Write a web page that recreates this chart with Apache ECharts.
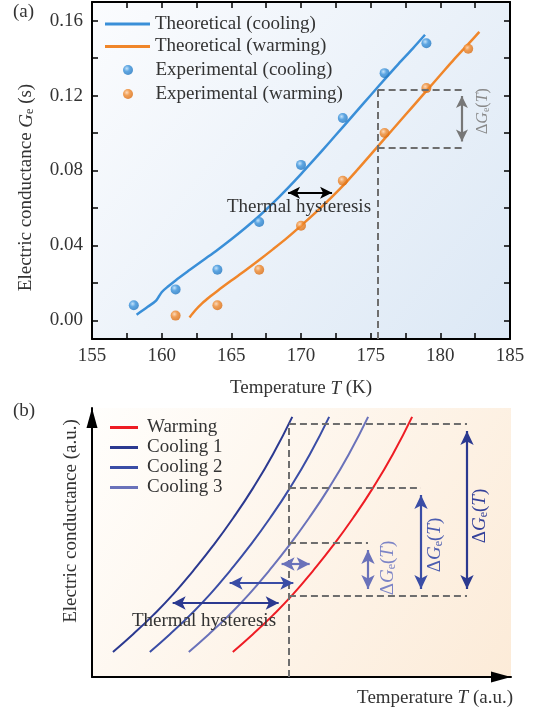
<!DOCTYPE html>
<html>
<head>
<meta charset="utf-8">
<script src="https://cdn.jsdelivr.net/npm/echarts@6/dist/echarts.min.js"></script>
<style>
  html, body { margin: 0; padding: 0; background: #fff; }
  #chart { width: 538px; height: 709px; }
</style>
</head>
<body>
<div id="chart"></div>
<script>
// ---- panel (a): temperature (K) vs electric conductance Ge (s) ----
const coolTheoryT = [158.2, 159.0, 159.6, 160.0, 160.5, 161, 162, 163, 164, 165, 166, 167, 168, 169, 170, 171, 172, 173, 174, 175, 176, 177, 178, 178.9];
const coolTheoryG = [0.0030, 0.0072, 0.0105, 0.0150, 0.0183, 0.0213, 0.0268, 0.0322, 0.0376, 0.0433, 0.0493, 0.0557, 0.0627, 0.0702, 0.0781, 0.0863, 0.0947, 0.1032, 0.1117, 0.1202, 0.1287, 0.1370, 0.1450, 0.1525];
const warmTheoryT = [162.0, 162.4, 162.9, 163.5, 164, 165, 166, 167, 168, 169, 170, 171, 172, 173, 174, 175, 176, 177, 178, 179, 180, 181, 182, 182.8];
const warmTheoryG = [0.0015, 0.0052, 0.0090, 0.0128, 0.0157, 0.0212, 0.0266, 0.0322, 0.0380, 0.0440, 0.0505, 0.0572, 0.0643, 0.0718, 0.0800, 0.0885, 0.0970, 0.1055, 0.1140, 0.1225, 0.1310, 0.1395, 0.1475, 0.1540];
const coolExpT = [158, 161, 164, 167, 170, 173, 176, 179];
const coolExpG = [0.008, 0.0165, 0.027, 0.0525, 0.083, 0.108, 0.132, 0.148];
const warmExpT = [161, 164, 167, 170, 173, 176, 179, 182];
const warmExpG = [0.0025, 0.008, 0.027, 0.0505, 0.0745, 0.100, 0.124, 0.145];
const xTicksA = [155, 157.5, 160, 162.5, 165, 167.5, 170, 172.5, 175, 177.5, 180, 182.5, 185];
const xLabelsA = [155, 160, 165, 170, 175, 180, 185];
const yTicksA = [0, 0.02, 0.04, 0.06, 0.08, 0.10, 0.12, 0.14, 0.16];
const yLabelsA = [0, 0.04, 0.08, 0.12, 0.16];

// ---- panel (b): schematic, arbitrary units (0-100 on both axes) ----
const warmX  = [33.6, 38.4, 43.2, 48.0, 52.7, 57.5, 62.3, 67.1, 71.8, 76.4];
const cool3X = [23.1, 27.9, 32.7, 37.5, 42.2, 47.0, 51.8, 56.6, 61.3, 65.9];
const cool2X = [13.8, 18.6, 23.4, 28.2, 32.9, 37.7, 42.5, 47.3, 52.0, 56.6];
const cool1X = [5.0, 9.8, 14.6, 19.4, 24.1, 28.9, 33.7, 38.5, 43.2, 47.8];
const curveY = [9.3, 15.9, 23.0, 30.8, 39.4, 48.8, 59.1, 70.4, 82.8, 96.7];

const FONT = "'Liberation Serif', 'Times New Roman', serif";
const TXT = '#333';

function pairs(xs, ys) {
    return xs.map((x, i) => [x, ys[i]]);
}

// italic letters and subscripts for rich text
function richStyles(size, color) {
    const sub = Math.round(size * 0.65);
    return {
        i: { fontFamily: FONT, fontSize: size, fontStyle: 'italic', color: color },
        s: { fontFamily: FONT, fontSize: sub, color: color, lineHeight: sub, padding: [sub, 0, 0, 0], verticalAlign: 'bottom' }
    };
}

function ball(light, mid, dark) {
    return new echarts.graphic.RadialGradient(0.38, 0.35, 0.65, [
        { offset: 0, color: light },
        { offset: 0.45, color: mid },
        { offset: 1, color: dark }
    ]);
}

function seg(x1, y1, x2, y2, color, dashed) {
    return [
        { coord: [x1, y1], symbol: 'none', lineStyle: { color: color, width: 2, type: dashed ? [7, 4] : 'solid' } },
        { coord: [x2, y2], symbol: 'none' }
    ];
}
function arrow(x1, y1, x2, y2, color, size) {
    return [
        { coord: [x1, y1], symbol: 'arrow', symbolSize: size, lineStyle: { color: color, width: 2.2, type: 'solid' } },
        { coord: [x2, y2], symbol: 'arrow', symbolSize: size }
    ];
}

const blueA = '#3a8fd8';
const orangeA = '#f0862a';
const dashGray = '#6e6e6e';
const navy1 = '#2b3990';
const navy2 = '#3a4da6';
const navy3 = '#6a72ba';
const red = '#ee1c24';

const tickStyle = { show: true, inside: true, length: 6, lineStyle: { color: '#000', width: 1.5 } };
const lineStyleAxis = { show: true, onZero: false, lineStyle: { color: '#000', width: 2 } };
const legendText = { fontFamily: FONT, fontSize: 19, color: TXT, lineHeight: 20 };

const myChart = echarts.init(document.getElementById('chart'));

let option = {
    animation: false,
    grid: [
        {
            left: 92, top: 2, width: 418, height: 337,
            show: true, borderWidth: 0,
            backgroundColor: { type: 'linear', x: 0, y: 0, x2: 1, y2: 1,
                colorStops: [{ offset: 0, color: '#fbfcfe' }, { offset: 1, color: '#dce8f5' }] }
        },
        {
            left: 92, top: 408, width: 419, height: 269,
            show: true, borderWidth: 0,
            backgroundColor: { type: 'linear', x: 0, y: 0, x2: 1, y2: 1,
                colorStops: [{ offset: 0, color: '#fffefc' }, { offset: 1, color: '#fcebd8' }] }
        }
    ],
    legend: [
        {
            data: ['Theoretical (cooling)', 'Theoretical (warming)'],
            orient: 'vertical', left: 100, top: 9,
            icon: 'rect', itemWidth: 45, itemHeight: 3, itemGap: 2.5,
            textStyle: legendText, selectedMode: false
        },
        {
            data: ['Experimental (cooling)', 'Experimental (warming)'],
            orient: 'vertical', left: 118, top: 55,
            icon: 'circle', itemWidth: 45, itemHeight: 10, itemGap: 4,
            textStyle: legendText, selectedMode: false
        },
        {
            data: ['Warming', 'Cooling 1', 'Cooling 2', 'Cooling 3'],
            orient: 'vertical', left: 105, top: 413,
            icon: 'rect', itemWidth: 28, itemHeight: 3, itemGap: 1,
            textStyle: { fontFamily: FONT, fontSize: 19, color: TXT, lineHeight: 19, padding: [0, 0, 0, 4] },
            selectedMode: false
        }
    ],
    xAxis: [
        {
            type: 'value', gridIndex: 0, position: 'bottom', min: 155, max: 185,
            axisLine: lineStyleAxis,
            axisTick: Object.assign({ customValues: xTicksA }, tickStyle),
            axisLabel: { customValues: xLabelsA, margin: 8, fontFamily: FONT, fontSize: 19, color: TXT },
            splitLine: { show: false },
            name: 'Temperature {i|T} (K)', nameLocation: 'middle', nameGap: 40,
            nameTextStyle: { fontFamily: FONT, fontSize: 19, color: TXT, rich: richStyles(19, TXT) }
        },
        {
            type: 'value', gridIndex: 0, position: 'top', min: 155, max: 185,
            axisLine: lineStyleAxis,
            axisTick: Object.assign({ customValues: xTicksA }, tickStyle),
            axisLabel: { show: false },
            splitLine: { show: false }
        },
        {
            type: 'value', gridIndex: 1, min: 0, max: 100,
            axisLine: { show: true, onZero: false, symbol: ['none', 'triangle'], symbolSize: [11, 20], symbolOffset: [0, -10],
                lineStyle: { color: '#000', width: 2 } },
            axisTick: { show: false }, axisLabel: { show: false }, splitLine: { show: false }
        }
    ],
    yAxis: [
        {
            type: 'value', gridIndex: 0, position: 'left', min: -0.01, max: 0.17,
            axisLine: lineStyleAxis,
            axisTick: Object.assign({ customValues: yTicksA }, tickStyle),
            axisLabel: { customValues: yLabelsA, margin: 9, fontFamily: FONT, fontSize: 19, color: TXT,
                formatter: v => v.toFixed(2) },
            splitLine: { show: false },
            name: 'Electric conductance {i|G}{s|e} (s)', nameLocation: 'middle', nameGap: 56,
            nameTextStyle: { fontFamily: FONT, fontSize: 19, color: TXT, padding: [0, 34, 0, 0], rich: richStyles(19, TXT) }
        },
        {
            type: 'value', gridIndex: 0, position: 'right', min: -0.01, max: 0.17,
            axisLine: lineStyleAxis,
            axisTick: Object.assign({ customValues: yTicksA }, tickStyle),
            axisLabel: { show: false },
            splitLine: { show: false }
        },
        {
            type: 'value', gridIndex: 1, min: 0, max: 100,
            axisLine: { show: true, onZero: false, symbol: ['none', 'triangle'], symbolSize: [11, 20], symbolOffset: [0, -10],
                lineStyle: { color: '#000', width: 2 } },
            axisTick: { show: false }, axisLabel: { show: false }, splitLine: { show: false }
        }
    ],
    series: [
        {
            name: 'Theoretical (cooling)', type: 'line', xAxisIndex: 0, yAxisIndex: 0,
            data: pairs(coolTheoryT, coolTheoryG), smooth: 0.3, showSymbol: false,
            lineStyle: { color: blueA, width: 2.5 }, itemStyle: { color: blueA }, z: 2
        },
        {
            name: 'Theoretical (warming)', type: 'line', xAxisIndex: 0, yAxisIndex: 0,
            data: pairs(warmTheoryT, warmTheoryG), smooth: 0.3, showSymbol: false,
            lineStyle: { color: orangeA, width: 2.5 }, itemStyle: { color: orangeA }, z: 2,
            markLine: {
                silent: true, animation: false, label: { show: false },
                data: [
                    seg(175.5, -0.01, 175.5, 0.123, dashGray, true),
                    seg(175.5, 0.123, 181.55, 0.123, dashGray, true),
                    seg(175.5, 0.0923, 181.55, 0.0923, dashGray, true),
                    arrow(181.55, 0.1198, 181.55, 0.0955, '#777', [9, 12]),
                    arrow(169.07, 0.0681, 172.23, 0.0681, '#000', [9, 12])
                ]
            }
        },
        {
            name: 'Experimental (cooling)', type: 'scatter', xAxisIndex: 0, yAxisIndex: 0,
            data: pairs(coolExpT, coolExpG), symbolSize: 10,
            itemStyle: { color: ball('#b9defa', '#3a93dc', '#2378c2') }, z: 3
        },
        {
            name: 'Experimental (warming)', type: 'scatter', xAxisIndex: 0, yAxisIndex: 0,
            data: pairs(warmExpT, warmExpG), symbolSize: 10,
            itemStyle: { color: ball('#ffd3ab', '#f08a2e', '#dc6e12') }, z: 3
        },
        {
            name: 'Warming', type: 'line', xAxisIndex: 2, yAxisIndex: 2,
            data: pairs(warmX, curveY), smooth: true, showSymbol: false,
            lineStyle: { color: red, width: 2 }, itemStyle: { color: red }, z: 3,
            markLine: {
                silent: true, animation: false, label: { show: false },
                data: [
                    seg(47.0, 0, 47.0, 94.05, dashGray, true),
                    seg(47.0, 94.05, 89.5, 94.05, dashGray, true),
                    seg(47.0, 70.26, 78.52, 70.26, dashGray, true),
                    seg(47.0, 49.81, 65.87, 49.81, dashGray, true),
                    seg(47.0, 30.11, 89.5, 30.11, dashGray, true),
                    arrow(89.5, 91.45, 89.5, 32.71, navy1, [10, 14]),
                    arrow(78.52, 67.66, 78.52, 32.71, navy2, [10, 14]),
                    arrow(65.87, 47.21, 65.87, 32.71, navy3, [10, 14]),
                    arrow(19.25, 27.5, 44.55, 27.5, navy1, [10, 13]),
                    arrow(32.85, 34.9, 48.05, 34.9, navy2, [10, 13]),
                    arrow(45.25, 42.0, 51.95, 42.0, navy3, [10, 13])
                ]
            }
        },
        {
            name: 'Cooling 1', type: 'line', xAxisIndex: 2, yAxisIndex: 2,
            data: pairs(cool1X, curveY), smooth: true, showSymbol: false,
            lineStyle: { color: navy1, width: 2 }, itemStyle: { color: navy1 }, z: 2
        },
        {
            name: 'Cooling 2', type: 'line', xAxisIndex: 2, yAxisIndex: 2,
            data: pairs(cool2X, curveY), smooth: true, showSymbol: false,
            lineStyle: { color: navy2, width: 2 }, itemStyle: { color: navy2 }, z: 2
        },
        {
            name: 'Cooling 3', type: 'line', xAxisIndex: 2, yAxisIndex: 2,
            data: pairs(cool3X, curveY), smooth: true, showSymbol: false,
            lineStyle: { color: navy3, width: 2 }, itemStyle: { color: navy3 }, z: 2
        }
    ],
    graphic: [
        { type: 'text', left: 13, top: 3, style: { text: '(a)', fontFamily: FONT, fontSize: 19, fill: TXT } },
        { type: 'text', left: 13, top: 402, style: { text: '(b)', fontFamily: FONT, fontSize: 19, fill: TXT } },
        { type: 'text', left: 227, top: 198, z: 10,
          style: { text: 'Thermal hysteresis', fontFamily: FONT, fontSize: 19, fill: TXT } },
        { type: 'text', left: 132, top: 612, z: 10,
          style: { text: 'Thermal hysteresis', fontFamily: FONT, fontSize: 19, fill: TXT } },
        { type: 'text', x: 71, y: 521, rotation: Math.PI / 2,
          style: { text: 'Electric conductance (a.u.)', fontFamily: FONT, fontSize: 19, fill: TXT, align: 'center', verticalAlign: 'middle' } },
        { type: 'text', x: 513, y: 698,
          style: { text: 'Temperature {i|T} (a.u.)', fontFamily: FONT, fontSize: 19, fill: TXT, align: 'right', verticalAlign: 'middle',
                   rich: richStyles(19, TXT) } },
        { type: 'text', x: 483, y: 111, rotation: Math.PI / 2, z: 10,
          style: { text: 'Δ{i|G}{s|e}({i|T})', fontFamily: FONT, fontSize: 16, fill: '#888', align: 'center', verticalAlign: 'middle',
                   rich: richStyles(16, '#888') } },
        { type: 'text', x: 480, y: 516, rotation: Math.PI / 2, z: 10,
          style: { text: 'Δ{i|G}{s|e}({i|T})', fontFamily: FONT, fontSize: 19, fill: '#34419a', align: 'center', verticalAlign: 'middle',
                   rich: richStyles(19, '#34419a') } },
        { type: 'text', x: 435, y: 545, rotation: Math.PI / 2, z: 10,
          style: { text: 'Δ{i|G}{s|e}({i|T})', fontFamily: FONT, fontSize: 19, fill: '#4c5db0', align: 'center', verticalAlign: 'middle',
                   rich: richStyles(19, '#4c5db0') } },
        { type: 'text', x: 388, y: 568, rotation: Math.PI / 2, z: 10,
          style: { text: 'Δ{i|G}{s|e}({i|T})', fontFamily: FONT, fontSize: 19, fill: '#7c84c6', align: 'center', verticalAlign: 'middle',
                   rich: richStyles(19, '#7c84c6') } }
    ]
};

myChart.setOption(option);
</script>
</body>
</html>
